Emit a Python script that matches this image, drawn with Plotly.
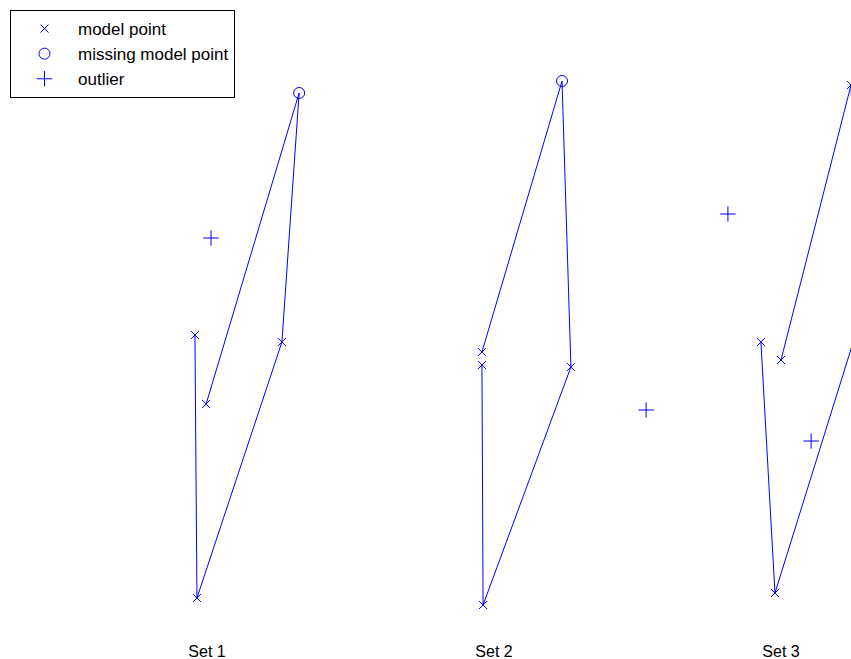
import plotly.graph_objects as go

# ---- data (x: set index units, y: arbitrary response units) ----
set_names = ["Set 1", "Set 2", "Set 3"]
set_positions = [1, 2, 3]

# path of model points for each set (drawn in this order)
set1_x = [0.958, 0.965, 1.261, 1.321, 0.997]
set1_y = [2.95, 0.32, 2.88, 5.37, 2.26]
set1_kind = ["model", "model", "model", "missing", "model"]

set2_x = [1.958, 1.962, 2.268, 2.237, 1.958]
set2_y = [2.65, 0.25, 2.63, 5.49, 2.78]
set2_kind = ["model", "model", "model", "missing", "model"]

set3_x = [2.930, 2.979, 3.270, 3.244, 3.000]
set3_y = [2.88, 0.37, 3.05, 5.45, 2.70]
set3_kind = ["model", "model", "model", "model", "model"]

outlier_x = [1.014, 2.530, 2.815, 3.105]
outlier_y = [3.92, 2.20, 4.16, 1.89]

BLUE = "#0000ff"
FONT = "Liberation Sans, Arial, sans-serif"

fig = go.Figure()

sets = [(set1_x, set1_y, set1_kind), (set2_x, set2_y, set2_kind), (set3_x, set3_y, set3_kind)]

# connecting lines
for xs, ys, _ in sets:
    fig.add_trace(go.Scatter(x=xs, y=ys, mode="lines", line=dict(color=BLUE, width=1),
                             showlegend=False, hoverinfo="skip"))

model_x, model_y, miss_x, miss_y = [], [], [], []
for xs, ys, kinds in sets:
    for x, y, k in zip(xs, ys, kinds):
        if k == "model":
            model_x.append(x); model_y.append(y)
        else:
            miss_x.append(x); miss_y.append(y)

fig.add_trace(go.Scatter(x=model_x, y=model_y, mode="markers", name="model point",
                         marker=dict(symbol="x-thin", size=8, line=dict(color=BLUE, width=1), color=BLUE)))
fig.add_trace(go.Scatter(x=miss_x, y=miss_y, mode="markers", name="missing model point",
                         marker=dict(symbol="circle-open", size=11, line=dict(color=BLUE, width=1), color=BLUE)))
fig.add_trace(go.Scatter(x=outlier_x, y=outlier_y, mode="markers", name="outlier",
                         marker=dict(symbol="cross-thin", size=11, line=dict(color=BLUE, width=1), color=BLUE)))

W, H = 851, 659
PLOT_H = 630

fig.update_layout(
    width=W, height=H,
    margin=dict(l=0, r=0, t=0, b=H - PLOT_H),
    paper_bgcolor="white", plot_bgcolor="white",
    font=dict(family=FONT, size=16, color="black"),
    xaxis=dict(range=[1 - 207 / 287, 1 + 644 / 287], showgrid=False, zeroline=False, showline=False,
               tickvals=set_positions, ticktext=set_names, ticks="", ticklabelstandoff=10,
               automargin=False, tickfont=dict(family=FONT, size=16, color="black")),
    yaxis=dict(range=[0, 6.3], showgrid=False, zeroline=False, showline=False, showticklabels=False,
               ticks="", automargin=False),
    legend=dict(x=10 / W, y=1 - 10 / PLOT_H, xanchor="left", yanchor="top",
                bordercolor="black", borderwidth=1, bgcolor="white",
                font=dict(family=FONT, size=17, color="black"), itemwidth=57),
    showlegend=True,
)

fig.write_html("out.html", config={"displayModeBar": False},
               post_script="document.body.style.margin='0';document.documentElement.style.overflow='hidden';")
